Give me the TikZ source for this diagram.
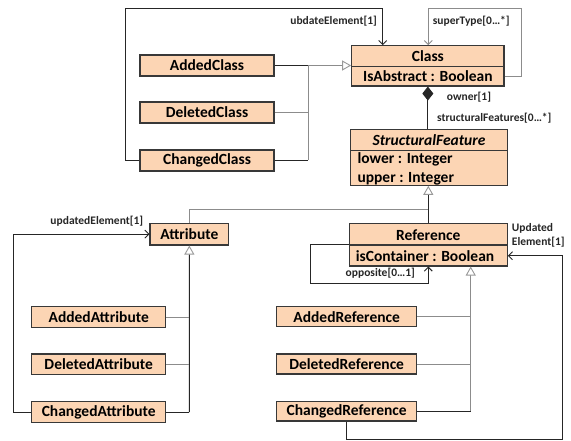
\documentclass[tikz,border=0pt]{standalone}
\usepackage{fontspec}
\setmainfont{Carlito}
\usetikzlibrary{arrows.meta}
\definecolor{boxfill}{RGB}{252,213,180}
\begin{document}
\begin{tikzpicture}[x=1pt,y=-1pt,
  box/.style={draw=black!78, line width=1.1pt, fill=boxfill, inner sep=0pt,
    font=\bfseries\fontsize{15.5}{18}\selectfont},
  frame/.style={draw=black!78, line width=1.1pt, fill=boxfill, inner sep=0pt},
  divider/.style={draw=black!78, line width=1.1pt},
  txt/.style={inner sep=0pt, font=\bfseries\fontsize{15.5}{18}\selectfont},
  lbl/.style={inner sep=0pt, font=\bfseries\fontsize{11.5}{14}\selectfont, text=black!85},
  dark/.style={draw=black!85, line width=0.9pt},
  light/.style={draw=black!45, line width=0.9pt},
  gen/.style={-{Triangle[open, length=9pt, width=10pt, fill=white, color=black!40]}},
  nav/.style={-{Straight Barb[length=4pt, width=8pt]}},
  comp/.style={{Diamond[length=14pt, width=11pt]}-},
]
\useasboundingbox[fill=white] (0,0) rectangle (571,441);

% ---- Class ----
\node[frame, minimum width=152.3, minimum height=40.3] (class) at (427.85,65.85) {};
\draw[divider] (class.west |- 0,66.7) -- (class.east |- 0,66.7);
\node[txt] (classname) at (427.85,56.2) {Class};
\node[txt] (classattr) at (427.85,76.4) {IsAbstract : Boolean};

% ---- StructuralFeature ----
\node[frame, minimum width=156.6, minimum height=56] (sf) at (429,157.3) {};
\draw[divider] (sf.west |- 0,150.7) -- (sf.east |- 0,150.7);
\node[txt] (sfname) at (429,140.5) {\itshape StructuralFeature};
\node[txt, anchor=west] (sflower) at (357.3,159) {lower : Integer};
\node[txt, anchor=west] (sfupper) at (357.3,178.5) {upper : Integer};

% ---- Reference ----
\node[frame, minimum width=158, minimum height=42.7] (reference) at (428.3,244.65) {};
\draw[divider] (reference.west |- 0,245) -- (reference.east |- 0,245);
\node[txt] (refname) at (428.3,235) {Reference};
\node[txt] (refattr) at (425,256) {isContainer : Boolean};

% ---- Attribute ----
\node[box, minimum width=78.7, minimum height=21.7] (attribute) at (189.35,234.15) {Attribute};

% ---- Class changes ----
\node[box, minimum width=134, minimum height=21] (addedclass) at (207,65.5) {AddedClass};
\node[box, minimum width=134, minimum height=21] (deletedclass) at (207,112.5) {DeletedClass};
\node[box, minimum width=134, minimum height=21] (changedclass) at (207,160.5) {ChangedClass};

% ---- Attribute changes ----
\node[box, minimum width=134, minimum height=20.6] (addedattr) at (98.7,317) {AddedAttribute};
\node[box, minimum width=134, minimum height=20.4] (deletedattr) at (98.7,364.2) {DeletedAttribute};
\node[box, minimum width=134, minimum height=20.6] (changedattr) at (98.7,412) {ChangedAttribute};

% ---- Reference changes ----
\node[box, minimum width=140, minimum height=20] (addedref) at (346.7,316.7) {AddedReference};
\node[box, minimum width=140, minimum height=20] (deletedref) at (346.7,364) {DeletedReference};
\node[box, minimum width=140, minimum height=19.5] (changedref) at (346.7,411.2) {ChangedReference};

% ---- routing points ----
\coordinate (cmerge) at (308,65.5);
\coordinate (ueL) at (125.7,8.3);
\coordinate (ueR) at (382.7,8.3);
\coordinate (stR) at (521.7,76);
\coordinate (stL) at (428.3,8.3);
\coordinate (featJ) at (428.3,209);
\coordinate (attrJ) at (189.3,412);
\coordinate (refJ) at (470.7,411.2);
\coordinate (uaL) at (13.3,234.15);
\coordinate (opL) at (310.7,244.65);
\coordinate (opR) at (428.3,283.3);
\coordinate (urB) at (346.7,439.3);
\coordinate (urR) at (562.7,255.7);

% ---- generalisations of Class ----
\draw[dark] (addedclass.east) -- (cmerge);
\draw[light, gen] (cmerge) -- (cmerge -| class.west);
\draw[light] (deletedclass.east) -| (cmerge);
\draw[dark] (changedclass.east) -- (changedclass.east -| cmerge);
\draw[light] (changedclass.east -| cmerge) -- (deletedclass.east -| cmerge);

% ---- associations on Class ----
\draw[dark, nav] (changedclass.west) -| (ueL) -- (ueR) -- (ueR |- class.north);
\draw[light, nav] (class.east |- stR) -- (stR) |- (stL) -- (stL |- class.north);
\draw[dark, comp] (class.south) -- (class.south |- sf.north);

% ---- feature hierarchy ----
\draw[dark, gen] (reference.north) -- (reference.north |- sf.south);
\draw[light] (attribute.north) |- (featJ);

% ---- Attribute hierarchy ----
\draw[dark, gen] (attrJ) -- (attribute.south);
\draw[light] (addedattr.east) -- (addedattr.east -| attrJ);
\draw[light] (deletedattr.east) -- (deletedattr.east -| attrJ);
\draw[dark] (changedattr.east) -- (attrJ);
\draw[dark, nav] (changedattr.west) -| (uaL) -- (attribute.west);

% ---- Reference hierarchy ----
\draw[light, gen] (refJ) -- (refJ |- reference.south);
\draw[light] (addedref.east) -- (addedref.east -| refJ);
\draw[light] (deletedref.east) -- (deletedref.east -| refJ);
\draw[dark] (changedref.east) -- (refJ);
\draw[dark, nav] (reference.west) -- (opL) |- (opR) -- (opR |- reference.south);
\draw[dark, nav] (changedref.south) -- (urB) -| (urR) -- (urR -| reference.east);

% ---- role labels ----
\node[lbl, anchor=east] (lblue) at (377,21.5) {ubdateElement[1]};
\node[lbl, anchor=west] (lblst) at (432.7,21.5) {superType[0…*]};
\node[lbl, anchor=west] (lblowner) at (446.7,97.3) {owner[1]};
\node[lbl, anchor=west] (lblsf) at (437,118.3) {structuralFeatures[0…*]};
\node[lbl, anchor=east] (lblua) at (143.3,221.7) {updatedElement[1]};
\node[lbl, anchor=east] (lblop) at (415,273.3) {opposite[0…1]};
\node[lbl, anchor=west, align=left] (lblur) at (511.7,235.3) {Updated\\Element[1]};
\end{tikzpicture}
\end{document}
